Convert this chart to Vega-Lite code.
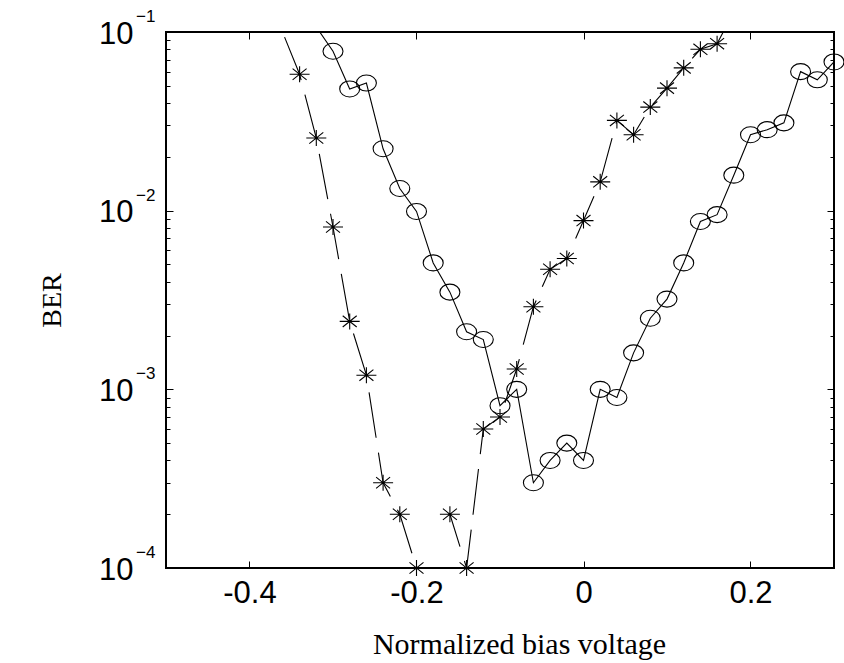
{
  "$schema": "https://vega.github.io/schema/vega-lite/v6.json",
  "width": 668,
  "height": 536,
  "autosize": {"type": "none"},
  "padding": {"left": 166, "top": 32, "right": 10, "bottom": 95},
  "background": "white",
  "config": {
    "view": {"stroke": "#000", "strokeWidth": 2},
    "axis": {"domain": false, "grid": false, "tickColor": "#000", "tickWidth": 1, "labelColor": "#000", "titleColor": "#000"}
  },
  "title": {"text": "(a)", "font": "Liberation Serif", "fontSize": 28, "fontWeight": "normal", "color": "#000", "anchor": "middle", "frame": "group", "baseline": "alphabetic", "offset": 34, "dx": -21},
  "data": {
    "values": [
      {"s": "circle", "v": -0.34, "ber": 0.146},
      {"s": "circle", "v": -0.30, "ber": 0.078},
      {"s": "circle", "v": -0.28, "ber": 0.048},
      {"s": "circle", "v": -0.26, "ber": 0.0518},
      {"s": "circle", "v": -0.24, "ber": 0.0222},
      {"s": "circle", "v": -0.22, "ber": 0.0133},
      {"s": "circle", "v": -0.20, "ber": 0.0099},
      {"s": "circle", "v": -0.18, "ber": 0.0051},
      {"s": "circle", "v": -0.16, "ber": 0.0035},
      {"s": "circle", "v": -0.14, "ber": 0.0021},
      {"s": "circle", "v": -0.12, "ber": 0.0019},
      {"s": "circle", "v": -0.10, "ber": 0.00081},
      {"s": "circle", "v": -0.08, "ber": 0.001},
      {"s": "circle", "v": -0.06, "ber": 0.0003},
      {"s": "circle", "v": -0.04, "ber": 0.0004},
      {"s": "circle", "v": -0.02, "ber": 0.0005},
      {"s": "circle", "v": 0.00, "ber": 0.0004},
      {"s": "circle", "v": 0.02, "ber": 0.001},
      {"s": "circle", "v": 0.04, "ber": 0.0009},
      {"s": "circle", "v": 0.06, "ber": 0.0016},
      {"s": "circle", "v": 0.08, "ber": 0.0025},
      {"s": "circle", "v": 0.10, "ber": 0.0032},
      {"s": "circle", "v": 0.12, "ber": 0.0051},
      {"s": "circle", "v": 0.14, "ber": 0.0087},
      {"s": "circle", "v": 0.16, "ber": 0.0095},
      {"s": "circle", "v": 0.18, "ber": 0.0158},
      {"s": "circle", "v": 0.20, "ber": 0.0266},
      {"s": "circle", "v": 0.22, "ber": 0.0284},
      {"s": "circle", "v": 0.24, "ber": 0.031},
      {"s": "circle", "v": 0.26, "ber": 0.060},
      {"s": "circle", "v": 0.28, "ber": 0.054},
      {"s": "circle", "v": 0.30, "ber": 0.068},
      {"s": "star", "v": -0.38, "ber": 0.168},
      {"s": "star", "v": -0.34, "ber": 0.058},
      {"s": "star", "v": -0.32, "ber": 0.0255},
      {"s": "star", "v": -0.30, "ber": 0.0081},
      {"s": "star", "v": -0.28, "ber": 0.0024},
      {"s": "star", "v": -0.26, "ber": 0.0012},
      {"s": "star", "v": -0.24, "ber": 0.0003},
      {"s": "star", "v": -0.22, "ber": 0.0002},
      {"s": "star", "v": -0.20, "ber": 0.0001},
      {"s": "star", "v": -0.18, "ber": null},
      {"s": "star", "v": -0.16, "ber": 0.0002},
      {"s": "star", "v": -0.14, "ber": 0.0001},
      {"s": "star", "v": -0.12, "ber": 0.0006},
      {"s": "star", "v": -0.10, "ber": 0.0007},
      {"s": "star", "v": -0.08, "ber": 0.0013},
      {"s": "star", "v": -0.06, "ber": 0.0029},
      {"s": "star", "v": -0.04, "ber": 0.0047},
      {"s": "star", "v": -0.02, "ber": 0.0054},
      {"s": "star", "v": 0.00, "ber": 0.0088},
      {"s": "star", "v": 0.02, "ber": 0.0145},
      {"s": "star", "v": 0.04, "ber": 0.032},
      {"s": "star", "v": 0.06, "ber": 0.0266},
      {"s": "star", "v": 0.08, "ber": 0.038},
      {"s": "star", "v": 0.10, "ber": 0.0485},
      {"s": "star", "v": 0.12, "ber": 0.063},
      {"s": "star", "v": 0.14, "ber": 0.080},
      {"s": "star", "v": 0.16, "ber": 0.086},
      {"s": "star", "v": 0.18, "ber": 0.13}
    ]
  },
  "layer": [
    {
      "transform": [{"filter": "datum.s == 'circle'"}],
      "mark": {"type": "line", "color": "#000", "strokeWidth": 1.1, "clip": true},
      "encoding": {
        "x": {"field": "v", "type": "quantitative",
              "scale": {"domain": [-0.5, 0.3], "nice": false, "zero": false},
              "axis": {"orient": "bottom", "values": [-0.4, -0.2, 0, 0.2], "tickSize": -7,
                       "labelExpr": "datum.value == 0 ? '0' : (datum.value < 0 ? '-' + format(-datum.value, '.1f') : format(datum.value, '.1f'))",
                       "labelFont": "Liberation Sans", "labelFontSize": 31, "labelBaseline": "alphabetic", "labelPadding": 41,
                       "title": "Normalized bias voltage", "titleFont": "Liberation Serif", "titleFontSize": 30, "titleFontWeight": "normal",
                       "titleBaseline": "alphabetic", "titleX": 353, "titleY": 85, "titleAlign": "center"}},
        "y": {"field": "ber", "type": "quantitative",
              "scale": {"type": "log", "domain": [0.0001, 0.1], "nice": false},
              "axis": {"orient": "left", "values": [0.0001, 0.001, 0.01, 0.1], "tickSize": -7,
                       "labelExpr": "'10'", "labelFont": "Liberation Sans", "labelFontSize": 31, "labelBaseline": "alphabetic",
                       "labelOffset": 11, "labelPadding": 40, "labelAlign": "right",
                       "title": "BER", "titleFont": "Liberation Serif", "titleFontSize": 28, "titleFontWeight": "normal",
                       "titleAngle": -90, "titleBaseline": "alphabetic", "titleX": -106, "titleY": 268, "titleAlign": "center"}}
      }
    },
    {
      "transform": [{"filter": "datum.s == 'star'"}],
      "mark": {"type": "line", "color": "#000", "strokeWidth": 1.1, "clip": true, "strokeDash": [46, 15], "strokeDashOffset": 12, "invalid": "break-paths-filter-domains"},
      "encoding": {
        "x": {"field": "v", "type": "quantitative",
              "axis": {"orient": "top", "values": [-0.4, -0.2, 0, 0.2], "tickSize": -7, "labels": false, "title": null}},
        "y": {"field": "ber", "type": "quantitative",
              "axis": {"orient": "right", "values": [0.0001, 0.001, 0.01, 0.1], "tickSize": -7, "labels": false, "title": null}}
      }
    },
    {
      "transform": [{"filter": "datum.s == 'circle' && datum.ber != null && datum.ber <= 0.1 && datum.ber >= 0.0001"}],
      "mark": {"type": "point", "shape": "M 1 0 C 1 0.4418 0.5523 0.8 0 0.8 C -0.5523 0.8 -1 0.4418 -1 0 C -1 -0.4418 -0.5523 -0.8 0 -0.8 C 0.5523 -0.8 1 -0.4418 1 0 Z", "size": 400, "filled": false, "color": "#000", "strokeWidth": 1.1, "opacity": 1},
      "encoding": {
        "x": {"field": "v", "type": "quantitative", "axis": null},
        "y": {"field": "ber", "type": "quantitative",
              "axis": {"orient": "left", "values": [0.0002, 0.0003, 0.0004, 0.0005, 0.0006, 0.0007, 0.0008, 0.0009, 0.002, 0.003, 0.004, 0.005, 0.006, 0.007, 0.008, 0.009, 0.02, 0.03, 0.04, 0.05, 0.06, 0.07, 0.08, 0.09], "tickSize": -4, "labels": false, "title": null}}
      }
    },
    {
      "transform": [{"filter": "datum.s == 'star' && datum.ber != null && datum.ber <= 0.1 && datum.ber >= 0.0001"}],
      "mark": {"type": "point", "shape": "M -1 0 L 1 0 M 0 -0.8 L 0 0.8 M -0.7 -0.56 L 0.7 0.56 M -0.7 0.56 L 0.7 -0.56", "size": 400, "filled": false, "color": "#000", "strokeWidth": 1.1, "opacity": 1},
      "encoding": {
        "x": {"field": "v", "type": "quantitative", "axis": null},
        "y": {"field": "ber", "type": "quantitative",
              "axis": {"orient": "right", "values": [0.0002, 0.0003, 0.0004, 0.0005, 0.0006, 0.0007, 0.0008, 0.0009, 0.002, 0.003, 0.004, 0.005, 0.006, 0.007, 0.008, 0.009, 0.02, 0.03, 0.04, 0.05, 0.06, 0.07, 0.08, 0.09], "tickSize": -4, "labels": false, "title": null}}
      }
    },
    {
      "data": {"values": [
        {"ber": 0.0001, "t": "−4"},
        {"ber": 0.001, "t": "−3"},
        {"ber": 0.01, "t": "−2"},
        {"ber": 0.1, "t": "−1"}
      ]},
      "mark": {"type": "text", "font": "Liberation Sans", "fontSize": 17, "align": "left", "baseline": "alphabetic", "dx": -30, "dy": -10, "color": "#000"},
      "encoding": {
        "x": {"datum": -0.5, "type": "quantitative", "axis": null},
        "y": {"field": "ber", "type": "quantitative", "axis": null},
        "text": {"field": "t"}
      }
    }
  ],
  "resolve": {"axis": {"x": "independent", "y": "independent"}}
}
